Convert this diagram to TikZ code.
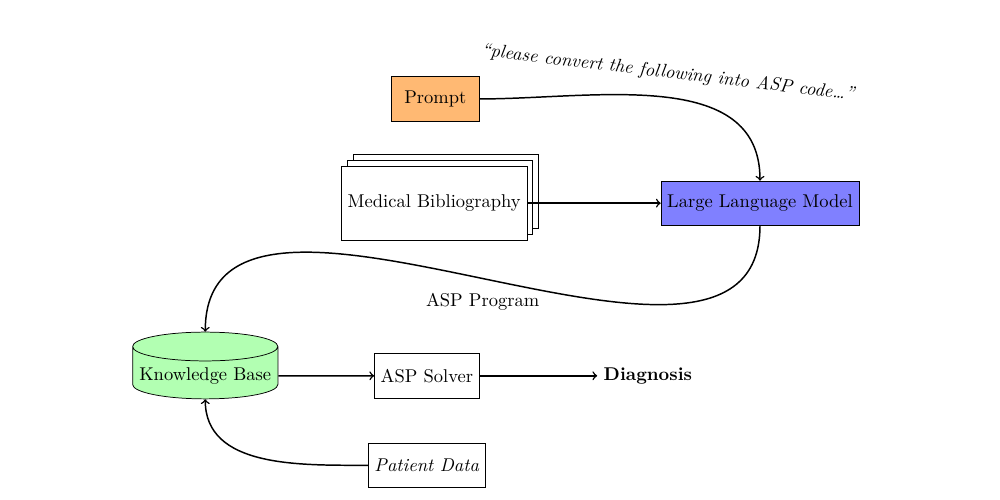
\documentclass[tikz,border=0pt]{standalone}
\usepackage{amsmath}
\usepackage{amssymb}
\usepackage{tikz}
\usetikzlibrary{shapes.geometric,shadows}

\begin{document}
\begin{tikzpicture}[
    box/.style={draw, minimum height=0.84cm},
    arr/.style={->, thick}
  ]
    \useasboundingbox (0,0) rectangle (19,-9.5);

    \node[box, fill=orange!55, minimum width=1.67cm] (Prompt) at (8.27,-1.88) {Prompt};
    \node[box, fill=white, minimum height=1.41cm, double copy shadow={shadow xshift=3.2pt, shadow yshift=3.2pt}] (Bib) at (8.25,-3.86) {Medical Bibliography};
    \node[box, fill=blue!50] (LLM) at (14.44,-3.86) {Large Language Model};
    \node[draw, cylinder, shape border rotate=90, aspect=0.2, fill=green!30, minimum height=1.17cm, minimum width=2.76cm] (KB) at (3.90,-7.14) {Knowledge Base};
    \node[box] (Solver) at (8.11,-7.14) {ASP Solver};
    \node (Diag) at (12.31,-7.14) {\textbf{Diagnosis}};
    \node[box] (Patient) at (8.11,-8.84) {\textit{Patient Data}};
    \node[rotate=-6.75] (Quote) at (12.70,-1.39) {\textit{``please convert the following into ASP code\dots''}};

    \draw [arr] (Prompt) edge[out=0, in=90] (LLM);
    \draw [arr] (Bib) edge (LLM);
    \draw [arr] (LLM) edge[out=-90, in=90] node[below=4pt] {ASP Program} (KB);
    \draw [arr] (KB) edge (Solver);
    \draw [arr] (Solver) edge (Diag);
    \draw [arr] (Patient) edge[out=180, in=-90] (KB);
  \end{tikzpicture}
\end{document}
